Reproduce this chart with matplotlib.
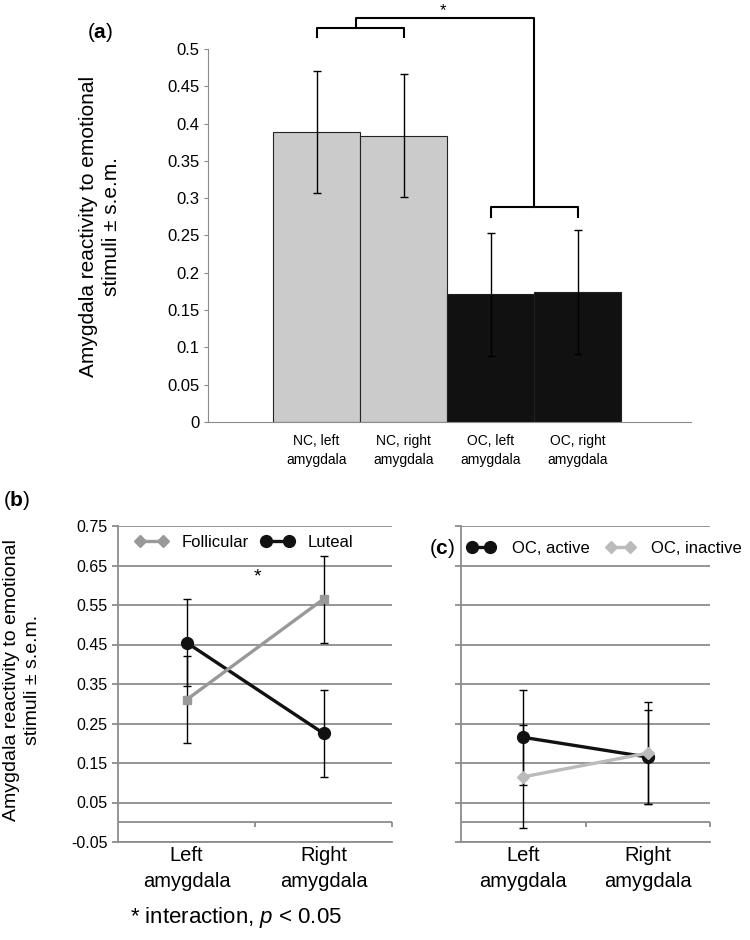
import matplotlib.pyplot as plt
from matplotlib.lines import Line2D
import numpy as np

plt.rcParams['font.family'] = ['Liberation Sans', 'DejaVu Sans']
plt.rcParams['mathtext.fontset'] = 'custom'
plt.rcParams['mathtext.rm'] = 'Liberation Sans'
plt.rcParams['mathtext.it'] = 'Liberation Sans:italic'
plt.rcParams['mathtext.bf'] = 'Liberation Sans:bold'

# (a) bar chart data
a_labels = ['NC, left\namygdala', 'NC, right\namygdala', 'OC, left\namygdala', 'OC, right\namygdala']
a_means = [0.389, 0.384, 0.171, 0.174]
a_sem = [0.082, 0.083, 0.083, 0.083]
a_colors = ['#cbcbcb', '#cbcbcb', '#111111', '#111111']

# (b) menstrual phase data
sides = ['Left\namygdala', 'Right\namygdala']
follicular = [0.31, 0.565]
follicular_sem = [0.11, 0.11]
luteal = [0.455, 0.225]
luteal_sem = [0.11, 0.11]

# (c) OC phase data
oc_active = [0.215, 0.165]
oc_active_sem = [0.12, 0.12]
oc_inactive = [0.115, 0.175]
oc_inactive_sem = [0.13, 0.13]

b_ticks = [0.75, 0.65, 0.55, 0.45, 0.35, 0.25, 0.15, 0.05, -0.05]
ylab = 'Amygdala reactivity to emotional\nstimuli \u00b1 s.e.m.'

grid_col = '#8c8c8c'
fig = plt.figure(figsize=(7.5, 9.4), dpi=100)

# ---------------- panel (a) ----------------
ax = fig.add_axes([208/750, 1-422/940, 483/750, 373/940])
x = np.arange(len(a_labels))
ax.bar(x, a_means, width=1.0, color=a_colors, edgecolor='#222222', linewidth=0.8)
ax.errorbar(x, a_means, yerr=a_sem, fmt='none', ecolor='black', elinewidth=1.0,
            capsize=3, capthick=1.0)
ax.set_xlim(-1.247, 4.30)
ax.set_ylim(0, 0.5)
ax.set_yticks(np.arange(0, 0.501, 0.05))
ax.set_yticklabels(['0', '0.05', '0.1', '0.15', '0.2', '0.25', '0.3', '0.35', '0.4', '0.45', '0.5'])
ax.set_xticks(x)
ax.set_xticklabels(a_labels, fontsize=10, linespacing=1.4)
ax.tick_params(axis='x', length=0, pad=9)
ax.tick_params(axis='y', labelsize=12, length=3, color=grid_col, pad=3)
for s in ['top', 'right']:
    ax.spines[s].set_visible(False)
for s in ['left', 'bottom']:
    ax.spines[s].set_color(grid_col)

# significance brackets
kw = dict(color='black', lw=1.5, clip_on=False)
ax.plot([0, 0, 1, 1], [0.516, 0.528, 0.528, 0.516], **kw)
ax.plot([2, 2, 3, 3], [0.275, 0.288, 0.288, 0.275], **kw)
ax.plot([0.45, 0.45, 2.5, 2.5], [0.528, 0.5416, 0.5416, 0.288], **kw)
ax.text(1.45, 0.552, '*', ha='center', va='center', fontsize=12, clip_on=False)

fig.text(100/750, 1-226/940, ylab, rotation=90, ha='center', va='center',
         fontsize=15, multialignment='center', linespacing=1.3)
fig.text(100/750, 1-33/940, r'($\mathbf{a}$)', ha='center', va='center', fontsize=15)


def line_panel(ax):
    ax.set_xlim(-0.5, 1.5)
    ax.set_ylim(-0.05, 0.75)
    ax.set_yticks(b_ticks)
    ax.grid(axis='y', color=grid_col, lw=1.3)
    ax.set_axisbelow(True)
    ax.axhline(0, color=grid_col, lw=1.3)
    ax.vlines([0.5, 1.5], -0.011, 0, color=grid_col, lw=1.3, clip_on=False)
    ax.set_xticks([0, 1])
    ax.set_xticklabels(sides, fontsize=14.5, linespacing=1.45)
    ax.tick_params(axis='x', length=0, pad=3)
    ax.tick_params(axis='y', length=4, color=grid_col, width=1.3, labelsize=11.5)
    for s in ['top', 'right']:
        ax.spines[s].set_visible(False)
    for s in ['left', 'bottom']:
        ax.spines[s].set_color(grid_col)
        ax.spines[s].set_linewidth(1.3)


# ---------------- panel (b) ----------------
axb = fig.add_axes([118/750, 1-842/940, 274/750, 316/940])
line_panel(axb)
axb.set_yticklabels(['0.75', '0.65', '0.55', '0.45', '0.35', '0.25', '0.15', '0.05', '-0.05'])
pos = np.arange(len(sides))
axb.errorbar(pos, luteal, yerr=luteal_sem, fmt='none', ecolor='black', elinewidth=1.0,
             capsize=3, capthick=1.0, zorder=3)
axb.errorbar(pos, follicular, yerr=follicular_sem, fmt='none', ecolor='black', elinewidth=1.0,
             capsize=3, capthick=1.0, zorder=3)
axb.plot(pos, luteal, color='#111111', lw=2.4, marker='o', ms=8.5, zorder=4)
axb.plot(pos, follicular, color='#999999', lw=2.4, marker='s', ms=6, zorder=5)
axb.text(0.52, 0.62, '*', ha='center', va='center', fontsize=14)
hb = [Line2D([], [], color='#999999', lw=2.4, marker='D', ms=6),
      Line2D([], [], color='#111111', lw=2.4, marker='o', ms=8.5)]
axb.legend(hb, ['Follicular', 'Luteal'], ncol=2, numpoints=2, frameon=False,
           loc='center left', bbox_to_anchor=(0.062, 0.949), borderpad=0,
           borderaxespad=0, handlelength=2.0, handletextpad=0.8,
           columnspacing=0.7, fontsize=12)

fig.text(22/750, 1-680/940, ylab, rotation=90, ha='center', va='center',
         fontsize=14, multialignment='center', linespacing=1.3)
fig.text(17/750, 1-500/940, r'($\mathbf{b}$)', ha='center', va='center', fontsize=15)
fig.text(236/750, 1-917/940, r'* interaction, $p$ < 0.05', ha='center', va='center',
         fontsize=16)

# ---------------- panel (c) ----------------
axc = fig.add_axes([461/750, 1-842/940, 249/750, 316/940])
line_panel(axc)
axc.set_yticklabels([])
axc.errorbar(pos, oc_active, yerr=oc_active_sem, fmt='none', ecolor='black', elinewidth=1.0,
             capsize=3, capthick=1.0, zorder=3)
axc.errorbar(pos, oc_inactive, yerr=oc_inactive_sem, fmt='none', ecolor='black', elinewidth=1.0,
             capsize=3, capthick=1.0, zorder=3)
axc.plot(pos, oc_active, color='#111111', lw=2.4, marker='o', ms=8.5, zorder=4)
axc.plot(pos, oc_inactive, color='#bbbbbb', lw=2.4, marker='D', ms=6, zorder=5)
hc = [Line2D([], [], color='#111111', lw=2.4, marker='o', ms=8.5),
      Line2D([], [], color='#bbbbbb', lw=2.4, marker='D', ms=6)]
axc.legend(hc, ['OC, active', 'OC, inactive'], ncol=2, numpoints=2, frameon=False,
           loc='center left', bbox_to_anchor=(0.024, 0.930), borderpad=0,
           borderaxespad=0, handlelength=1.7, handletextpad=1.0,
           columnspacing=1.0, fontsize=12)
fig.text(442/750, 1-548/940, r'($\mathbf{c}$)', ha='center', va='center', fontsize=15)

fig.savefig('out.png', dpi=100)
